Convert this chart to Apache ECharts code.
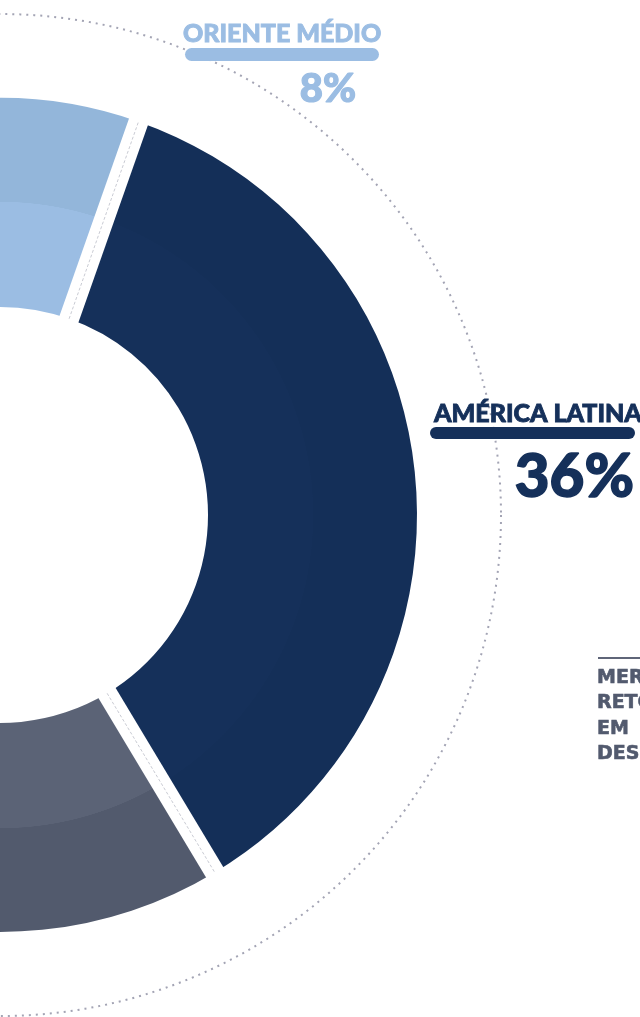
<!DOCTYPE html>
<html>
<head>
<meta charset="utf-8">
<script src="https://cdn.jsdelivr.net/npm/echarts@6/dist/echarts.min.js"></script>
<style>
  html, body { margin: 0; padding: 0; background: #ffffff; overflow: hidden; }
  #chart { width: 640px; height: 1017px; }
</style>
</head>
<body>
<div id="chart"></div>
<script>
// Share of revenue by region (%)
const regions = ['Oriente Médio', 'América Latina', 'Mercados Retomados em Desenvolvimento', 'América do Norte', 'Europa', 'Ásia'];
const shares = [8, 36, 14, 20, 14, 8];
// inner / outer band colour of each ring segment
const innerColors = ['#9bbde3', '#15305a', '#5b6376', '#7d8aa3', '#3c5a86', '#c3d3e6'];
const outerColors = ['#93b6da', '#142f58', '#525a6d', '#737f98', '#35517b', '#b8c9de'];

// Geometry of the ring
const CX = 0, CY = 515;
const R_IN = 208, R_OUT = 417, R_BAND = 313, R_DOT = 501;
const GAP = 20;            // white gap between segments (px)
const START = 99.4;        // start angle of the first segment (deg, ECharts convention)

const chart = echarts.init(document.getElementById('chart'), null, { renderer: 'canvas' });

const bandStop = R_BAND / R_OUT;
function bandFill(i) {
  return {
    type: 'radial', x: CX, y: CY, r: R_OUT, global: true,
    colorStops: [
      { offset: 0, color: innerColors[i] },
      { offset: bandStop, color: innerColors[i] },
      { offset: bandStop + 0.001, color: outerColors[i] },
      { offset: 1, color: outerColors[i] }
    ]
  };
}

// cumulative start of every segment: white separators with a dashed hairline inside
const starts = [];
shares.reduce((acc, v) => { starts.push(acc); return acc + v; }, 0);
const total = shares.reduce((a, b) => a + b, 0);

function radialLine(s, style, z, r0, r1) {
  return {
    type: 'line', coordinateSystem: 'polar', silent: true, symbol: 'none',
    z, animation: false, lineStyle: style, data: [[r0, s], [r1, s]]
  };
}
const separators = starts.map(s => radialLine(s, { color: '#ffffff', width: GAP, cap: 'butt' }, 4, R_IN - 3, R_OUT + 3));
const hairlines = starts.map(s => radialLine(s, { color: '#c9cbd3', width: 1, type: [3, 2] }, 5, R_IN, R_OUT));

const FAMILY = 'Lato, "Open Sans", sans-serif';
function textStyle(text, size, fill, align, vAlign, extra) {
  return Object.assign({
    text, fill, align, verticalAlign: vAlign,
    fontFamily: FAMILY, fontWeight: 900, fontSize: size,
    stroke: fill, lineWidth: 0.9
  }, extra || {});
}

chart.setOption({
  backgroundColor: '#ffffff',
  animation: false,
  polar: { center: [CX, CY], radius: R_DOT },
  radiusAxis: {
    type: 'value', min: 0, max: R_DOT,
    axisLine: { show: false }, axisTick: { show: false },
    axisLabel: { show: false }, splitLine: { show: false }
  },
  angleAxis: {
    type: 'value', min: 0, max: total, startAngle: START, clockwise: true,
    axisLine: { show: true, lineStyle: { color: '#a3a4b4', width: 2, type: [2, 5] } },
    axisTick: { show: false }, axisLabel: { show: false }, splitLine: { show: false }
  },
  series: [
    {
      type: 'pie',
      center: [CX, CY],
      radius: [R_IN, R_OUT],
      startAngle: START,
      clockwise: true,
      silent: true,
      z: 2,
      label: { show: false },
      labelLine: { show: false },
      itemStyle: { borderWidth: 0 },
      data: regions.map((name, i) => ({ name, value: shares[i], itemStyle: { color: bandFill(i) } }))
    },
    ...separators,
    ...hairlines
  ],
  graphic: [
    // Oriente Médio
    { type: 'text', x: 183, y: 34, z: 10,
      style: textStyle(regions[0].toUpperCase(), 25, '#9bbde3', 'left', 'middle') },
    { type: 'rect', z: 10, shape: { x: 185, y: 48, width: 194, height: 13, r: 6.5 }, style: { fill: '#9bbde3' } },
    { type: 'text', x: 356, y: 89, z: 10,
      style: textStyle(shares[0] + '%', 40, '#9bbde3', 'right', 'middle', { lineWidth: 1.2 }) },
    // América Latina
    { type: 'text', x: 434, y: 414, z: 10,
      style: textStyle(regions[1].toUpperCase(), 25, '#15305a', 'left', 'middle') },
    { type: 'rect', z: 10, shape: { x: 430, y: 427, width: 205, height: 12, r: 6 }, style: { fill: '#15305a' } },
    { type: 'text', x: 634, y: 478, z: 10,
      style: textStyle(shares[1] + '%', 60, '#15305a', 'right', 'middle', { lineWidth: 1.5 }) },
    // Mercados retomados em desenvolvimento
    { type: 'rect', z: 10, shape: { x: 598, y: 657, width: 60, height: 2 }, style: { fill: '#5f6578' } },
    { type: 'text', x: 597, y: 665, z: 10,
      style: textStyle(regions[2].toUpperCase().split(' ').join('\n'), 19, '#525a6e', 'left', 'top',
                       { lineHeight: 25.5, fontFamily: '"DejaVu Sans", sans-serif', fontWeight: 700, lineWidth: 0.6 }) }
  ]
});
</script>
</body>
</html>
